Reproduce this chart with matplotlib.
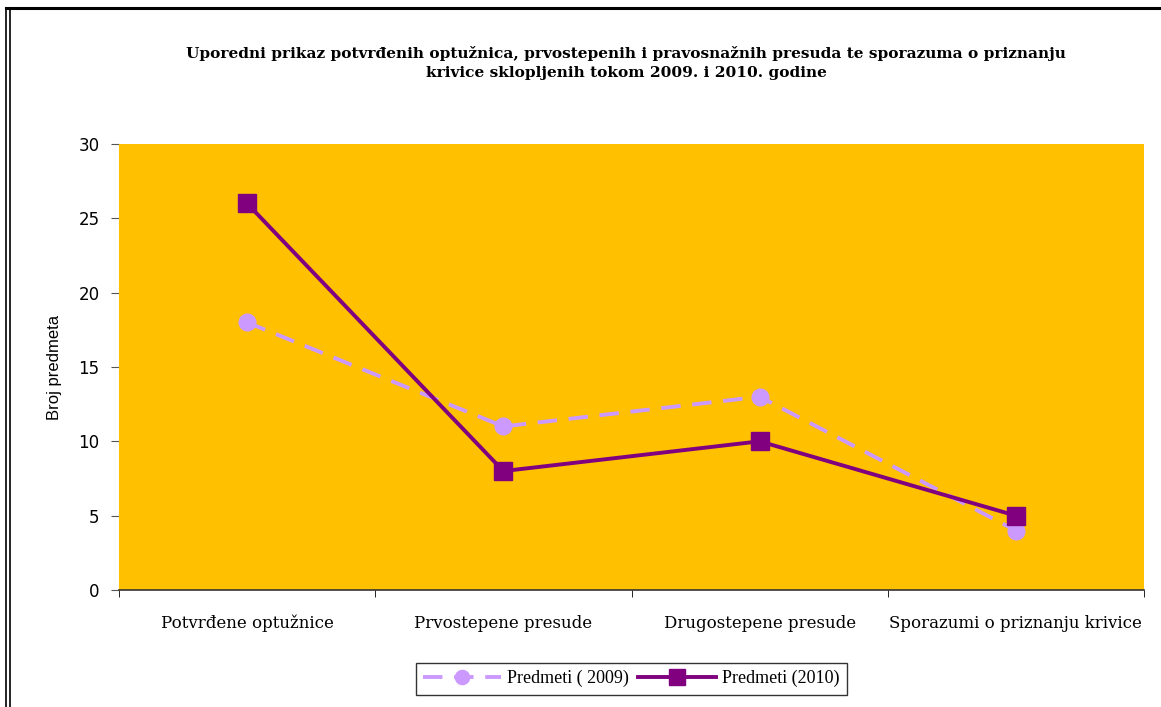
import matplotlib
matplotlib.use("Agg")
import matplotlib.pyplot as plt
from matplotlib.lines import Line2D

categories = ["Potvrđene optužnice", "Prvostepene presude", "Drugostepene presude", "Sporazumi o priznanju krivice"]
values_2009 = [18, 11, 13, 4]
values_2010 = [26, 8, 10, 5]
label_2009 = "Predmeti ( 2009)"
label_2010 = "Predmeti (2010)"
title = "Uporedni prikaz potvrđenih optužnica, prvostepenih i pravosnažnih presuda te sporazuma o priznanju\nkrivice sklopljenih tokom 2009. i 2010. godine"
yticks = [0, 5, 10, 15, 20, 25, 30]

plt.rcParams['font.family'] = ['DejaVu Serif', 'Liberation Serif']

fig = plt.figure(figsize=(11.61, 7.07), dpi=100)
ax = fig.add_axes([119/1161, 1-590/707, (1144-119)/1161, (590-144)/707])
ax.set_facecolor('#FFC000')

x = list(range(len(categories)))
ax.plot(x, values_2009, color='#CC99FF', lw=2.8, ls=(0, (5, 3)), marker='o', ms=12,
        markeredgecolor='#CC99FF', markerfacecolor='#CC99FF', label=label_2009, zorder=3)
ax.plot(x, values_2010, color='#800080', lw=2.8, ls='-', marker='s', ms=13,
        markeredgecolor='#800080', markerfacecolor='#800080', label=label_2010, zorder=4)

ax.set_xlim(-0.5, len(categories) - 0.5)
ax.set_ylim(0, 30)
ax.set_yticks(yticks)
ax.set_yticklabels([str(v) for v in yticks], fontsize=12, family=['DejaVu Sans'])
ax.set_xticks(x)
ax.set_xticklabels(categories, fontsize=12)
ax.tick_params(axis='x', length=0, pad=18)
ax.set_xticks([i - 0.5 for i in range(len(categories) + 1)], minor=True)
ax.tick_params(axis='x', which='minor', length=5, direction='out', color='black')
ax.tick_params(axis='y', length=6, direction='out', color='#555555', pad=8)

for s in ['top', 'right']:
    ax.spines[s].set_visible(False)
ax.spines['left'].set_color('#FFC000')
ax.spines['bottom'].set_color('#333333')
ax.spines['bottom'].set_linewidth(1.2)

ax.set_ylabel("Broj predmeta", fontsize=12, labelpad=12, family=['Liberation Sans'])

fig.text(626/1161, 1-63/707, title, ha='center', va='center', fontsize=11.1,
         fontweight='bold', linespacing=1.4)

leg = ax.legend(loc='upper center', bbox_to_anchor=(0.5, -0.143), ncol=2, frameon=True,
                fancybox=False, edgecolor='black', handlelength=4.3,
                prop={'family': ['Liberation Serif'], 'size': 13},
                borderpad=0.4, columnspacing=0.5, handletextpad=0.35, markerscale=0.85)
leg.get_frame().set_linewidth(1.0)

# outer frame
fig.add_artist(Line2D([6/1161, 1], [1-8/707, 1-8/707], color='black', lw=2.2, transform=fig.transFigure))
fig.add_artist(Line2D([6/1161, 6/1161], [0, 1-8/707], color='black', lw=1.2, transform=fig.transFigure))
fig.add_artist(Line2D([10/1161, 10/1161], [0, 1-10/707], color='black', lw=1.2, transform=fig.transFigure))

fig.savefig("out.png", dpi=100, facecolor='white')
